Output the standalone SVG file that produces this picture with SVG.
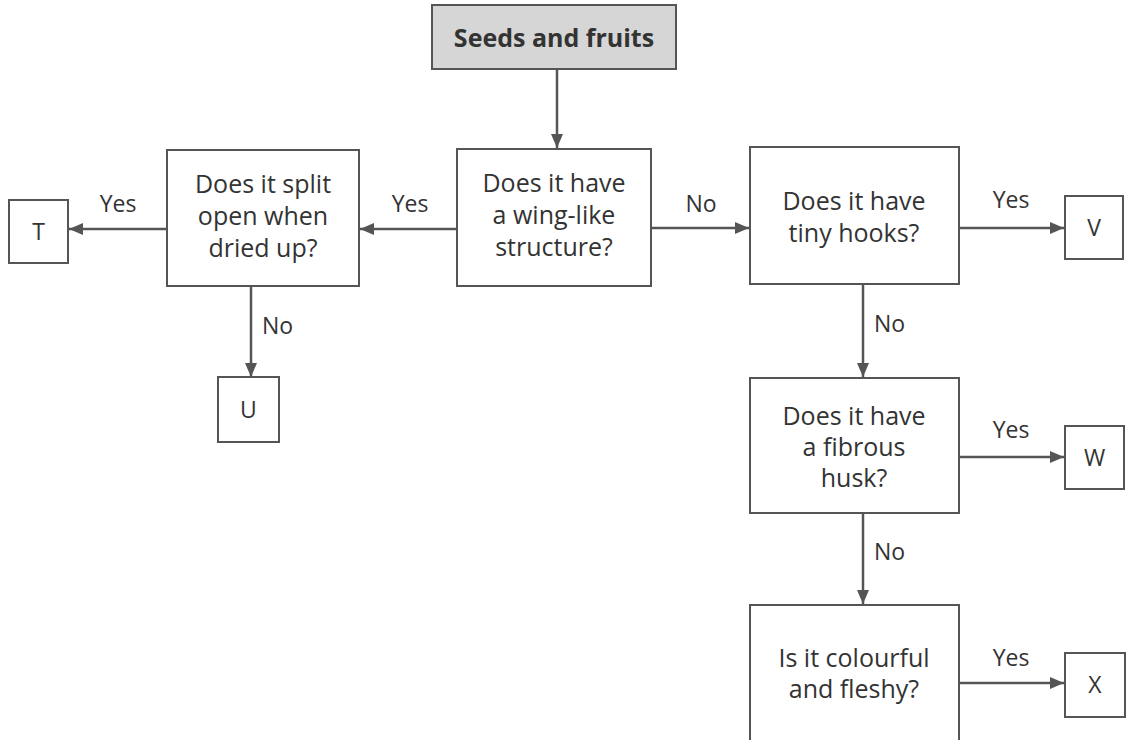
<svg xmlns="http://www.w3.org/2000/svg" width="1128" height="740" viewBox="0 0 1128 740">
<defs>
<marker id="ah" viewBox="0 0 14 12" refX="14" refY="6" markerWidth="14" markerHeight="12" markerUnits="userSpaceOnUse" orient="auto">
<path d="M0,0 L14,6 L0,12 Z" fill="#555"/>
</marker>
</defs>
<style>
.box{fill:#fff;stroke:#555;stroke-width:2}
.start{fill:#d6d6d6;stroke:#555;stroke-width:2}
.t{font-family:"Open Sans","Noto Sans",sans-serif;font-size:25px;fill:#333;text-anchor:middle}
.b{font-weight:bold}
.k{font-size:23px}
.lbl{font-family:"Open Sans","Noto Sans",sans-serif;font-size:23px;fill:#333}
.c{fill:none;stroke:#555;stroke-width:2.5;marker-end:url(#ah)}
</style>
<rect width="1128" height="740" fill="#fff"/>
<g id="connectors">
<line class="c" x1="557" y1="69" x2="557" y2="148"/>
<line class="c" x1="457" y1="229" x2="360" y2="229"/>
<line class="c" x1="651" y1="228" x2="749" y2="228"/>
<line class="c" x1="167" y1="229" x2="69" y2="229"/>
<line class="c" x1="251" y1="286" x2="251" y2="377"/>
<line class="c" x1="959" y1="228" x2="1064" y2="228"/>
<line class="c" x1="863" y1="284" x2="863" y2="377"/>
<line class="c" x1="959" y1="457" x2="1064" y2="457"/>
<line class="c" x1="863" y1="513" x2="863" y2="604"/>
<line class="c" x1="959" y1="683" x2="1064" y2="683"/>
<text class="lbl" x="410" y="212" text-anchor="middle">Yes</text>
<text class="lbl" x="701" y="212" text-anchor="middle">No</text>
<text class="lbl" x="118" y="212" text-anchor="middle">Yes</text>
<text class="lbl" x="262" y="334">No</text>
<text class="lbl" x="1011" y="208" text-anchor="middle">Yes</text>
<text class="lbl" x="874" y="332">No</text>
<text class="lbl" x="1011" y="438" text-anchor="middle">Yes</text>
<text class="lbl" x="874" y="560">No</text>
<text class="lbl" x="1011" y="666" text-anchor="middle">Yes</text>
</g>
<g id="start">
<rect class="start" x="432" y="5" width="244" height="64"/>
<text class="t b" x="554" y="47">Seeds and fruits</text>
</g>
<g id="wing">
<rect class="box" x="457" y="149" width="194" height="137"/>
<text class="t" x="554" y="192">Does it have</text>
<text class="t" x="554" y="224">a wing-like</text>
<text class="t" x="554" y="256">structure?</text>
</g>
<g id="split">
<rect class="box" x="167" y="150" width="192" height="136"/>
<text class="t" x="263" y="193">Does it split</text>
<text class="t" x="263" y="225">open when</text>
<text class="t" x="263" y="257">dried up?</text>
</g>
<g id="T">
<rect class="box" x="9" y="200" width="59" height="63"/>
<text class="t k" x="38.5" y="240">T</text>
</g>
<g id="U">
<rect class="box" x="218" y="377" width="61" height="65"/>
<text class="t k" x="248.5" y="418">U</text>
</g>
<g id="hooks">
<rect class="box" x="750" y="147" width="209" height="137"/>
<text class="t" x="854" y="210">Does it have</text>
<text class="t" x="854" y="242">tiny hooks?</text>
</g>
<g id="V">
<rect class="box" x="1065" y="196" width="58" height="63"/>
<text class="t k" x="1094" y="236">V</text>
</g>
<g id="fibrous">
<rect class="box" x="750" y="378" width="209" height="135"/>
<text class="t" x="854" y="425">Does it have</text>
<text class="t" x="854" y="456">a fibrous</text>
<text class="t" x="854" y="487">husk?</text>
</g>
<g id="W">
<rect class="box" x="1065" y="426" width="59" height="63"/>
<text class="t k" x="1094.5" y="466">W</text>
</g>
<g id="colourful">
<rect class="box" x="750" y="605" width="209" height="145"/>
<text class="t" x="854" y="667">Is it colourful</text>
<text class="t" x="854" y="698">and fleshy?</text>
</g>
<g id="X">
<rect class="box" x="1065" y="653" width="60" height="64"/>
<text class="t k" x="1095" y="693">X</text>
</g>
</svg>
